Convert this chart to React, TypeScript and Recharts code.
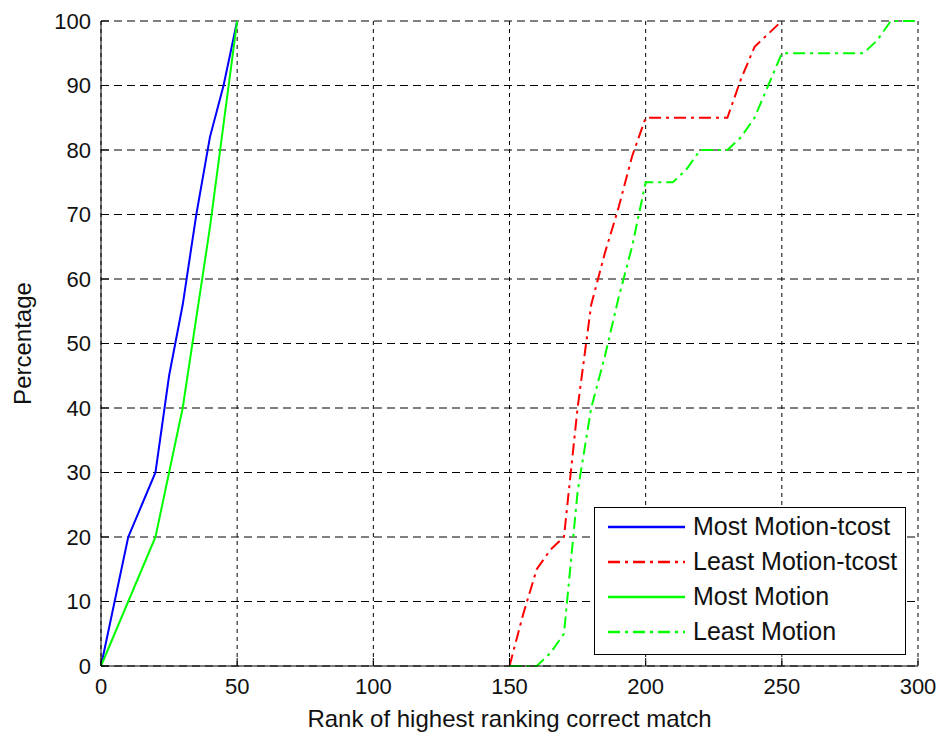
import { LineChart, Line, XAxis, YAxis, CartesianGrid, Legend } from "recharts";

const xTicks = [0, 50, 100, 150, 200, 250, 300];
const yTicks = [0, 10, 20, 30, 40, 50, 60, 70, 80, 90, 100];

// rank values for each curve
const ranksMost = [0, 5, 10, 15, 20, 25, 30, 35, 40, 45, 50];
const ranksLeastTcost = [
  150, 155, 160, 165, 170, 175, 180, 185, 190, 195, 200, 205, 210, 215, 220,
  225, 230, 235, 240, 245, 250,
];
const ranksLeast = [
  150, 155, 160, 165, 170, 175, 180, 185, 190, 195, 200, 205, 210, 215, 220,
  225, 230, 235, 240, 245, 250, 255, 260, 265, 270, 275, 280, 285, 290, 295,
  300,
];

// percentage values
const mostMotionTcost = [0, 10, 20, 25, 30, 45, 56, 70, 82, 90, 100];
const mostMotion = [0, 5, 10, 15, 20, 30, 40, 54, 68, 84, 100];
const leastMotionTcost = [
  0, 8, 15, 18, 20, 40, 56, 64, 71, 79, 85, 85, 85, 85, 85, 85, 85, 91, 96, 98,
  100,
];
const leastMotion = [
  0, 0, 0, 2, 5, 27, 40, 48, 57, 65, 75, 75, 75, 77, 80, 80, 80, 82, 85, 90, 95,
  95, 95, 95, 95, 95, 95, 97, 100, 100, 100,
];

const toPoints = (ranks: number[], values: number[]) =>
  ranks.map((r, i) => ({ rank: r, pct: values[i] }));

const FONT = '"Liberation Sans", Arial, sans-serif';
const DASHDOT = "12 5 3 5";

const series = [
  { name: "Most Motion-tcost", color: "#0000ff", dash: undefined, data: toPoints(ranksMost, mostMotionTcost) },
  { name: "Least Motion-tcost", color: "#ff0000", dash: DASHDOT, data: toPoints(ranksLeastTcost, leastMotionTcost) },
  { name: "Most Motion", color: "#00ff00", dash: undefined, data: toPoints(ranksMost, mostMotion) },
  { name: "Least Motion", color: "#00ff00", dash: DASHDOT, data: toPoints(ranksLeast, leastMotion) },
];

function LegendBox() {
  return (
    <div
      style={{
        width: 310,
        height: 145,
        border: "1px solid #000",
        background: "#fff",
        padding: "1px 0 0 0",
        fontFamily: FONT,
        fontSize: 25,
        color: "#111",
      }}
    >
      {series.map((s) => (
        <div key={s.name} style={{ display: "flex", alignItems: "center", height: 35 }}>
          <svg width={85} height={10} style={{ marginLeft: 13 }}>
            <line
              x1={0}
              x2={77}
              y1={5}
              y2={5}
              stroke={s.color}
              strokeWidth={2.5}
              strokeDasharray={s.dash}
            />
          </svg>
          <span style={{ whiteSpace: "nowrap" }}>{s.name}</span>
        </div>
      ))}
    </div>
  );
}

const tickStyle = { fontFamily: FONT, fontSize: 22, fill: "#111" };

export default function App() {
  return (
    <div style={{ position: "absolute", left: 0, top: 0, background: "#fff" }}>
      <LineChart width={942} height={735} margin={{ top: 21, right: 24, bottom: 0, left: 0 }}>
        <CartesianGrid horizontal={true} vertical={false} stroke="#000" strokeDasharray="8 5" />
        <CartesianGrid horizontal={false} vertical={true} stroke="#000" strokeDasharray="4 4" />
        <XAxis
          dataKey="rank"
          type="number"
          domain={[0, 300]}
          ticks={xTicks}
          height={69}
          tickSize={-8}
          tickMargin={20}
          stroke="#000"
          tick={tickStyle}
          label={{
            value: "Rank of highest ranking correct match",
            position: "insideBottom",
            offset: 8,
            style: { fontFamily: FONT, fontSize: 24, fill: "#111" },
          }}
        />
        <XAxis
          xAxisId="top"
          orientation="top"
          type="number"
          domain={[0, 300]}
          ticks={xTicks}
          height={0}
          tickSize={-8}
          stroke="#000"
          tickFormatter={() => ""}
        />
        <YAxis
          type="number"
          domain={[0, 100]}
          ticks={yTicks}
          width={101}
          tickSize={-8}
          tickMargin={18}
          stroke="#000"
          tick={tickStyle}
          label={{
            value: "Percentage",
            content: () => (
              <text
                x={31}
                y={343.5}
                transform="rotate(-90, 31, 343.5)"
                textAnchor="middle"
                style={{ fontFamily: FONT, fontSize: 24, fill: "#111" }}
              >
                Percentage
              </text>
            ),
          }}
        />
        <YAxis
          yAxisId="right"
          orientation="right"
          type="number"
          domain={[0, 100]}
          ticks={yTicks}
          width={0}
          tickSize={-8}
          stroke="#000"
          tickFormatter={() => ""}
        />
        {series.map((s) => (
          <Line
            key={s.name}
            data={s.data}
            dataKey="pct"
            name={s.name}
            type="linear"
            stroke={s.color}
            strokeWidth={2}
            strokeDasharray={s.dash}
            dot={false}
            isAnimationActive={false}
          />
        ))}
        <Legend
          layout="vertical"
          align="center"
          verticalAlign="middle"
          content={() => <LegendBox />}
          wrapperStyle={{ left: 594, top: 507, width: 312, height: 147 }}
        />
      </LineChart>
    </div>
  );
}
